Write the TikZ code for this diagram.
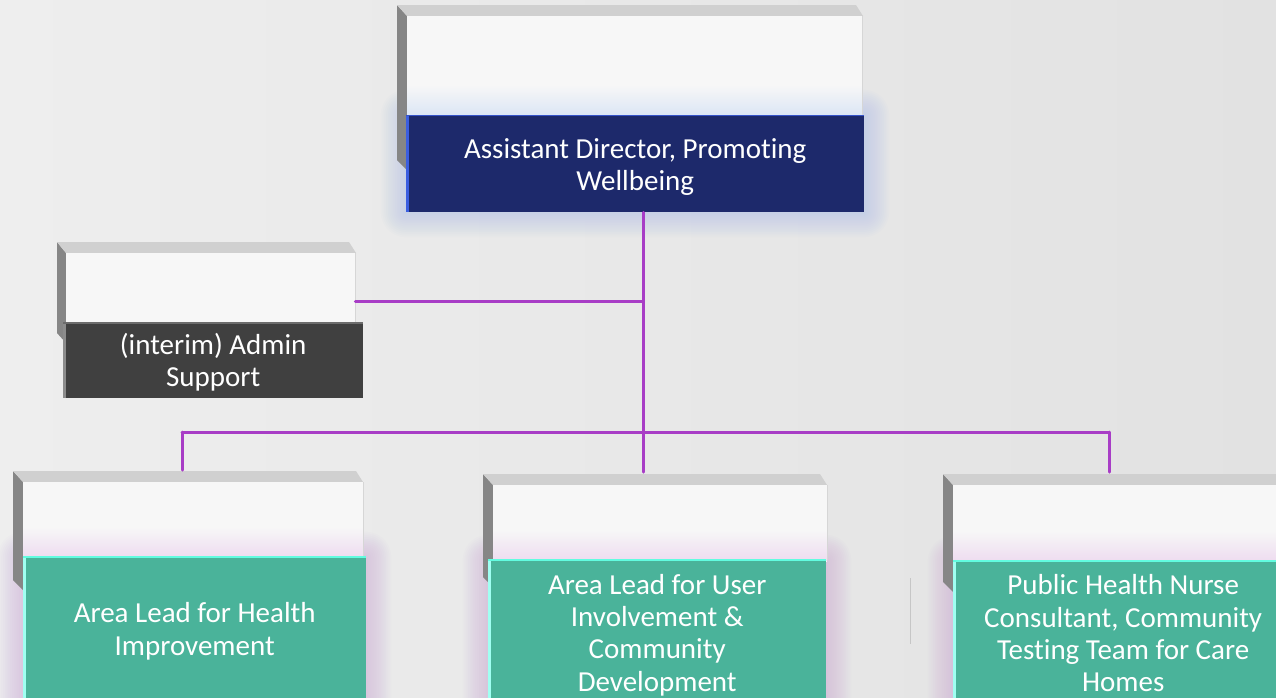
\documentclass[tikz,border=0pt]{standalone}
\usepackage{fontspec}
\setmainfont[Ligatures=NoCommon]{Carlito}
\definecolor{bgL}{HTML}{EEEEEE}
\definecolor{bgR}{HTML}{E2E2E2}
\definecolor{faceW}{HTML}{F7F7F7}
\definecolor{bevT}{HTML}{D0D0D0}
\definecolor{bevL}{HTML}{868686}
\definecolor{edgeR}{HTML}{D6D6D6}
\definecolor{navy}{HTML}{1D296B}
\definecolor{navyEdge}{HTML}{3B5EE0}
\definecolor{darkg}{HTML}{404040}
\definecolor{darkgEdge}{HTML}{8C8C8C}
\definecolor{teal}{HTML}{4AB39A}
\definecolor{tealTop}{HTML}{62FCE0}
\definecolor{tealL}{HTML}{A0FFF2}
\definecolor{conn}{HTML}{A83DC6}
\definecolor{glowB}{HTML}{A9BDE6}
\definecolor{glowP}{HTML}{C9A2DB}
\definecolor{tintB}{HTML}{DCE6F5}
\definecolor{tintP}{HTML}{EEDCF0}
\newcommand\glowbox[5]{%
  \foreach \i in {1,...,14}{%
    \fill[#1, opacity=0.04, rounded corners={\i*1.8pt}] ({#2-\i*1.8},{#3-\i*1.8}) rectangle ({#4+\i*1.8},{#5+\i*1.8});}}
\begin{document}
\begin{tikzpicture}[x=1pt,y=-1pt,
  face/.style={anchor=north west, inner sep=0pt, fill=faceW},
  front/.style={anchor=north west, inner sep=0pt, text=white, align=center,
    font=\fontsize{29}{32.2}\selectfont},
  link/.style={draw=conn, line width=3pt, line cap=round}]
\useasboundingbox (0,0) rectangle (1276,697);
\clip (0,0) rectangle (1276,697);
\shade[left color=bgL, right color=bgR] (0,0) rectangle (1276,697);

% ---------- top box ----------
\glowbox{glowB}{406}{115}{864}{212}
\fill[bevL] (397,5) -- (407,16) -- (407,170) -- (397,160) -- cycle;
\fill[bevT] (397,5) -- (856,5) -- (863,16) -- (407,16) -- cycle;
\node[face, minimum width=455pt, minimum height=114pt] (adback) at (407,16) {};
\shade[top color=faceW, bottom color=tintB] (407,85) rectangle (862,115);
\draw[edgeR, line width=1pt] (862,16) -- (862,115);
\node[front, fill=navy, minimum width=458pt, minimum height=97pt] (ad) at (406,115)
  {\rule{0pt}{26pt}Assistant Director, Promoting\\Wellbeing};
\fill[navyEdge] (ad.north west) rectangle ++(3,97);
\draw[navyEdge!80!navy, line width=1pt] (ad.north west) -- (ad.north east);

% ---------- admin box ----------
\fill[bevL] (57,242) -- (66,253) -- (66,343) -- (57,333) -- cycle;
\fill[bevT] (57,242) -- (349,242) -- (356,253) -- (66,253) -- cycle;
\node[face, minimum width=289pt, minimum height=77pt] (admback) at (66,253) {};
\draw[edgeR, line width=1pt] (355,253) -- (355,323);
\node[front, fill=darkg, minimum width=300pt, minimum height=75pt] (adm) at (63,323)
  {\rule{0pt}{24pt}(interim) Admin\\Support};
\fill[darkgEdge] (adm.north west) rectangle ++(3,75);
\draw[gray!70!darkg, line width=1.5pt] (adm.north west) -- (adm.north east);

% ---------- bottom boxes ----------
\glowbox{glowP}{23}{557}{366}{705}
\glowbox{glowP}{488}{560}{826}{705}
\glowbox{glowP}{953}{561}{1293}{705}

\fill[bevL] (13,471) -- (23,482) -- (23,590) -- (13,580) -- cycle;
\fill[bevT] (13,471) -- (356,471) -- (363,482) -- (23,482) -- cycle;
\node[face, minimum width=340pt, minimum height=78pt] (b1back) at (23,482) {};
\shade[top color=faceW, bottom color=tintP] (23,527) rectangle (363,557);
\draw[edgeR, line width=1pt] (363,482) -- (363,557);
\node[front, fill=teal, minimum width=343pt, minimum height=148pt] (b1) at (23,557)
  {Area Lead for Health\\Improvement};
\fill[tealL] (b1.north west) rectangle ++(3,148);
\draw[tealTop, line width=2pt] (b1.north west) -- (b1.north east);

\fill[bevL] (483,474) -- (493,485) -- (493,587) -- (483,577) -- cycle;
\fill[bevT] (483,474) -- (820,474) -- (827,485) -- (493,485) -- cycle;
\node[face, minimum width=334pt, minimum height=77pt] (b2back) at (493,485) {};
\shade[top color=faceW, bottom color=tintP] (493,530) rectangle (827,560);
\draw[edgeR, line width=1pt] (827,485) -- (827,560);
\node[front, fill=teal, minimum width=338pt, minimum height=145pt] (b2) at (488,560)
  {\rule{0pt}{25pt}Area Lead for User\\Involvement \&\\Community\\Development};
\fill[tealL] (b2.north west) rectangle ++(3,145);
\draw[tealTop, line width=2pt] (b2.north west) -- (b2.north east);

\fill[bevL] (943,474) -- (953,485) -- (953,592) -- (943,582) -- cycle;
\fill[bevT] (943,474) -- (1295,474) -- (1295,485) -- (953,485) -- cycle;
\node[face, minimum width=340pt, minimum height=78pt] (b3back) at (953,485) {};
\shade[top color=faceW, bottom color=tintP] (953,531) rectangle (1293,561);
\node[front, fill=teal, minimum width=340pt, minimum height=144pt] (b3) at (953,561)
  {Public Health Nurse\\Consultant, Community\\Testing Team for Care\\Homes};
\fill[tealL] (b3.north west) rectangle ++(3,144);
\draw[tealTop, line width=2pt] (b3.north west) -- (b3.north east);

% stray thin line
\draw[gray!45, line width=1pt] (910,578) -- (910,644);

% ---------- connectors ----------
\coordinate (j1) at (643,301);
\coordinate (j2) at (643,432);
\coordinate (l) at (182,432);
\coordinate (r) at (1109,432);
\coordinate (t1) at (182,470);
\coordinate (t2) at (643,472);
\coordinate (t3) at (1109,472);
\draw[link] (ad.south -| j1) -- (j1) -- (j2);
\draw[link] (admback.east |- j1) -- (j1);
\draw[link] (l) -- (r);
\draw[link] (l) -- (t1);
\draw[link] (j2) -- (t2);
\draw[link] (r) -- (t3);
\end{tikzpicture}
\end{document}
